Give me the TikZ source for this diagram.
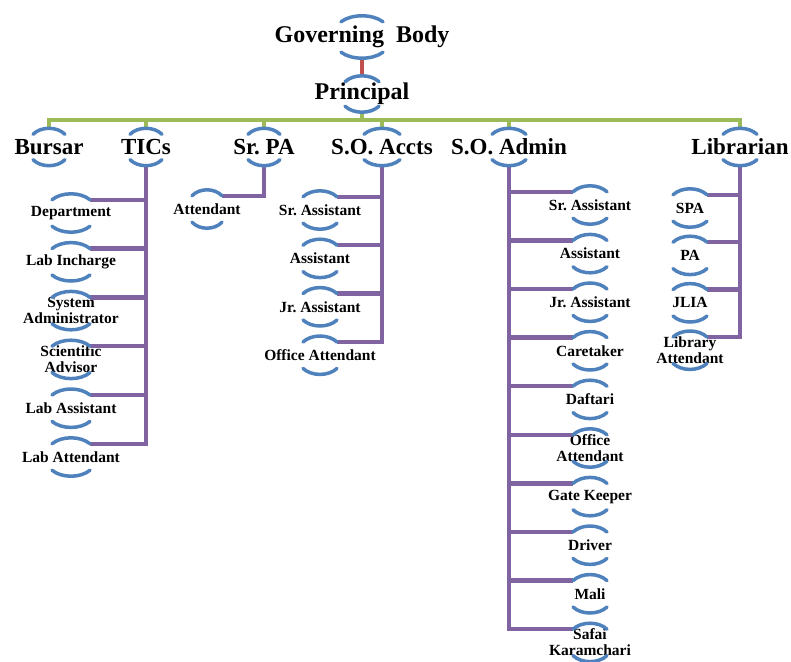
\documentclass[tikz,border=0pt]{standalone}
\usepackage{fontspec}
\setmainfont{Liberation Serif}
\usetikzlibrary{positioning}
\frenchspacing

\definecolor{arcblue}{HTML}{4F81BD}
\definecolor{linkred}{HTML}{C0504D}
\definecolor{busgreen}{HTML}{9BBB59}
\definecolor{subpurple}{HTML}{8064A2}

\begin{document}
\begin{tikzpicture}[
  x=1pt, y=1pt,
  govbox/.style={font=\fontsize{24}{26}\selectfont\bfseries, minimum height=42pt, inner sep=0pt},
  headbox/.style={font=\fontsize{23}{25}\selectfont\bfseries, minimum height=37pt, inner sep=0pt},
  postbox/.style={font=\fontsize{15.5}{16}\selectfont\bfseries, minimum height=38pt, inner sep=0pt, align=center},
  arcb/.style={draw=arcblue, line width=3.5pt, line cap=round},
  govline/.style={draw=linkred, line width=4pt},
  busline/.style={draw=busgreen, line width=4.5pt},
  subline/.style={draw=subpurple, line width=4.5pt}
]
\useasboundingbox (0,0) rectangle (791,-661);

% top of the chart
\node[govbox] (gb) at (362,-37) {Governing~ Body};
\node[govbox, minimum height=36pt] (pr) at (362,-94) {Principal};

% heads under the principal
\node[headbox] (bu)  at (49,-147)  {Bursar};
\node[headbox] (tic) at (146,-147) {TICs};
\node[headbox] (spa) at (264,-147) {Sr. PA};
\node[headbox] (acc) at (382,-147) {S.O. Accts};
\node[headbox] (adm) at (509,-147) {S.O. Admin};
\node[headbox] (lib) at (740,-147) {Librarian};

% TICs
\node[postbox] (t1) at (71,-213) {Department};
\node[postbox, below=10.4pt of t1] (t2) {Lab Incharge};
\node[postbox, below=10.4pt of t2] (t3) {System\\Administrator};
\node[postbox, below=10.4pt of t3] (t4) {Scientific\\Advisor};
\node[postbox, below=10.4pt of t4] (t5) {Lab Assistant};
\node[postbox, below=10.4pt of t5] (t6) {Lab Attendant};

% Sr. PA
\node[postbox] (pa1) at (207,-209) {Attendant};

% S.O. Accts
\node[postbox] (ac1) at (320,-210) {Sr. Assistant};
\node[postbox, below=10pt of ac1] (ac2) {Assistant};
\node[postbox, below=10pt of ac2] (ac3) {Jr. Assistant};
\node[postbox, below=10pt of ac3] (ac4) {Office Attendant};

% S.O. Admin
\node[postbox] (ad1) at (590,-205) {Sr. Assistant};
\node[postbox, below=10.2pt of ad1] (ad2) {Assistant};
\node[postbox, below=10.2pt of ad2] (ad3) {Jr. Assistant};
\node[postbox, below=10.2pt of ad3] (ad4) {Caretaker};
\node[postbox, below=10.2pt of ad4] (ad5) {Daftari};
\node[postbox, below=10.2pt of ad5] (ad6) {Office\\Attendant};
\node[postbox, below=10.2pt of ad6] (ad7) {Gate Keeper};
\node[postbox, below=10.2pt of ad7] (ad8) {Driver};
\node[postbox, below=10.2pt of ad8] (ad9) {Mali};
\node[postbox, below=10.2pt of ad9] (ad10) {Safai\\Karamchari};

% Librarian
\node[postbox] (l1) at (690,-208) {SPA};
\node[postbox, below=9pt of l1] (l2) {PA};
\node[postbox, below=9pt of l2] (l3) {JLIA};
\node[postbox, below=9pt of l3] (l4) {Library\\Attendant};

% connectors
\draw[govline] (gb.south) -- (pr.north);
\foreach \c in {bu,tic,spa,acc,adm,lib}
  \draw[busline] (pr.south) -- ++(0,-8) -| (\c.north);

\foreach \i in {1,...,6}
  \draw[subline] (tic.south) |- ([shift={(19,-6)}]t\i.north);
\draw[subline] (spa.south) |- ([shift={(15,-6)}]pa1.north);
\foreach \i in {1,...,4}
  \draw[subline] (acc.south) |- ([shift={(17,-6)}]ac\i.north);
\foreach \i in {1,...,10}
  \draw[subline] (adm.south) |- ([shift={(-17,-6)}]ad\i.north);
\foreach \i in {1,...,4}
  \draw[subline] (lib.south) |- ([shift={(17,-6)}]l\i.north);

% brackets round every box
\foreach \n/\w in {gb/21, pr/17, bu/16, tic/16, spa/16, acc/18, adm/17, lib/17, pa1/15,
    t1/19, t2/19, t3/19, t4/19, t5/19, t6/19, ac1/17, ac2/17, ac3/17, ac4/17,
    ad1/17, ad2/17, ad3/17, ad4/17, ad5/17, ad6/17, ad7/17, ad8/17, ad9/17, ad10/17,
    l1/17, l2/17, l3/17, l4/17}{
  \draw[arcb] ([shift={(-\w,-6)}]\n.north) .. controls ([shift={(-\w/2,2)}]\n.north) and ([shift={(\w/2,2)}]\n.north) .. ([shift={(\w,-6)}]\n.north);
  \draw[arcb] ([shift={(-\w,6)}]\n.south) .. controls ([shift={(-\w/2,-2)}]\n.south) and ([shift={(\w/2,-2)}]\n.south) .. ([shift={(\w,6)}]\n.south);
}
\end{tikzpicture}
\end{document}
